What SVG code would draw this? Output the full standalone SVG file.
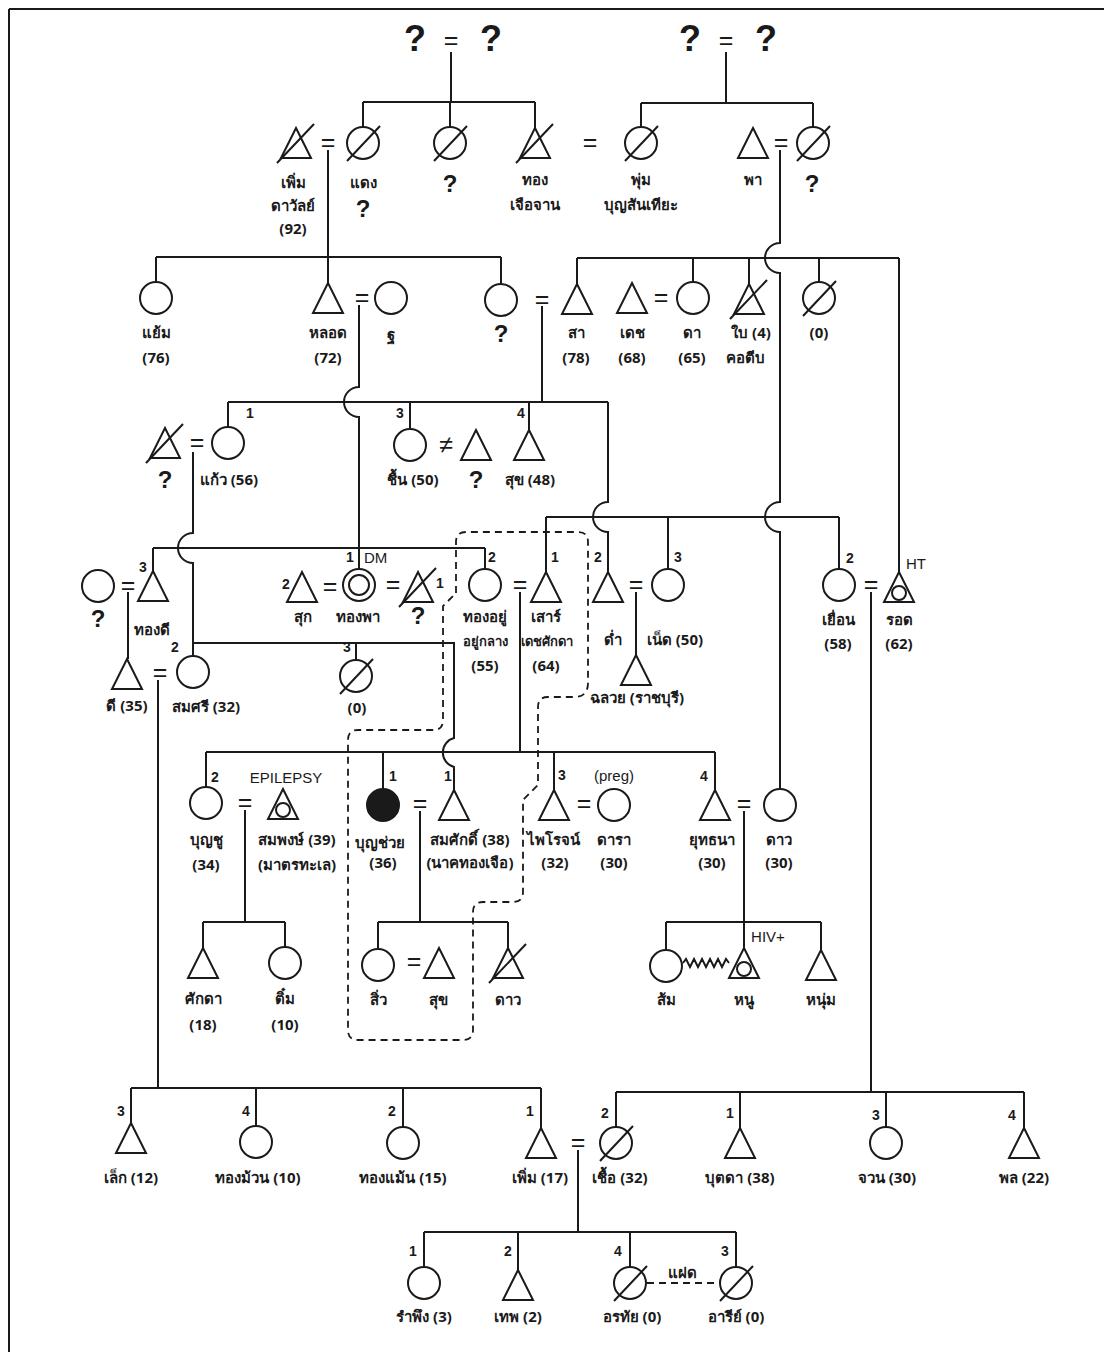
<svg xmlns="http://www.w3.org/2000/svg" xmlns:xlink="http://www.w3.org/1999/xlink" width="1104" height="1352" viewBox="0 0 1104 1352">
<style>
.ln{stroke:#1a1a1a;stroke-width:2;fill:none}
.dl{stroke:#1a1a1a;stroke-width:1.8;fill:none;stroke-dasharray:7 5}
.sym{stroke:#1a1a1a;stroke-width:2;fill:#fff}
.sl{stroke:#1a1a1a;stroke-width:2}
.t{font-family:"Noto Sans","DejaVu Sans",sans-serif;font-size:15px;font-weight:bold;text-anchor:middle;fill:#1a1a1a}
.ts{font-size:13px}
.n{font-family:"Liberation Sans",sans-serif;font-size:14px;font-weight:bold;text-anchor:middle;fill:#1a1a1a}
.e{font-family:"Liberation Sans",sans-serif;font-size:15px;text-anchor:middle;fill:#1a1a1a}
.eq{font-family:"Liberation Sans",sans-serif;font-size:25px;text-anchor:middle;fill:#1a1a1a}
.q{font-family:"Liberation Sans",sans-serif;font-size:24px;font-weight:bold;text-anchor:middle;fill:#1a1a1a}
.qb{font-family:"Liberation Sans",sans-serif;font-size:36px;font-weight:bold;text-anchor:middle;fill:#1a1a1a}
</style>
<defs>
<path id="tri" d="M0,-15 L15,15 L-15,15 Z" class="sym"/>
<circle id="cir" r="16" class="sym"/>
<line id="slT" x1="-19" y1="20" x2="18" y2="-19" class="sl"/>
<line id="slC" x1="-16" y1="18" x2="17" y2="-17" class="sl"/>
<circle id="inn" cx="0" cy="6" r="7" class="sym"/>
</defs>
<rect width="1104" height="1352" fill="#fff"/>
<path class="ln" d="M9,9 H1104 M9,9 V1352" stroke-width="1.5"/>

<g id="connectors">
<path class="ln" d="M451,52 V102 M363,102 H535 M363,102 V127 M450,102 V127 M535,102 V128"/>
<path class="ln" d="M726,52 V103 M641,103 H813 M641,103 V127 M813,103 V127"/>
<path class="ln" d="M328,150 V283" stroke-width="1.4"/>
<path class="ln" d="M156,257 H501 M156,257 V282 M501,257 V284"/>
<path class="ln" d="M780,150 V243 A15,15 0 0,0 780,273 V502 A15,15 0 0,0 780,532 V789"/>
<path class="ln" d="M577,258 H899 M577,258 V284 M693,258 V282 M749,258 V284 M819,258 V282 M899,258 V572"/>
<path class="ln" d="M359,305 V387 A15,15 0 0,0 359,417 V569"/>
<path class="ln" d="M542,306 V402" stroke-width="1.4"/>
<path class="ln" d="M228,402 H608 M228,402 V427 M410,402 V429 M529,402 V430 M608,402 V502 A15,15 0 0,0 608,532 V572"/>
<path class="ln" d="M193,452 V533 A15,15 0 0,0 193,563 V643 H454 V738 A15,15 0 0,0 454,767 V790 M193,643 V656 M356,643 V660"/>
<path class="ln" d="M153,548 H485 M153,548 V571 M485,548 V569"/>
<path class="ln" d="M546,517 H839 M546,517 V572 M668,517 V569 M839,517 V569"/>
<path class="ln" d="M128,592 V659"/>
<path class="ln" d="M158,680 V1088 M131,1088 H541 M131,1088 V1123 M256,1088 V1126 M403,1088 V1127 M541,1088 V1128"/>
<path class="ln" d="M520,592 V752" stroke-width="1.4"/>
<path class="ln" d="M636,592 V655"/>
<path class="ln" d="M871,592 V1092 M616,1092 H1024 M616,1092 V1127 M740,1092 V1128 M886,1092 V1127 M1024,1092 V1128"/>
<path class="ln" d="M206,752 H715 M206,752 V787 M383,752 V789 M554,752 V790 M715,752 V790"/>
<path class="ln" d="M245,810 V922 M203,922 H285 M203,922 V948 M285,922 V947"/>
<path class="ln" d="M420,811 V922 M378,922 H508 M378,922 V949 M508,922 V948"/>
<path class="ln" d="M744,811 V948 M666,922 H821 M666,922 V950 M821,922 V950"/>
<path class="ln" d="M578,1150 V1232 M424,1232 H736 M424,1232 V1267 M518,1232 V1270 M630,1232 V1267 M736,1232 V1267"/>
<path class="dl" d="M647,1283 H719" stroke-dasharray="4 3" stroke-width="1.5"/>
<path class="ln" stroke-width="1.5" d="M683,963 l3,-4 l4,8 l4,-8 l4,8 l4,-8 l4,8 l4,-8 l4,8 l4,-8 l4,8 l4,-8 l3,4"/>
<path class="dl" d="M456,593 V542 Q456,532 466,532 H578 Q588,532 588,542 V683 Q588,697 574,697 H548 Q538,697 538,707 V785 L523,800 V892 Q523,902 513,902 H483 Q473,902 473,912 V1030 Q473,1040 463,1040 H358 Q348,1040 348,1030 V740 Q348,730 358,730 H433 Q443,730 443,720 V606 Z"/>
</g>

<g id="top-left-parents"><text class="qb" x="415" y="51">?</text><text class="eq" x="451" y="49" font-size="28">=</text><text class="qb" x="491" y="51">?</text></g>
<g id="top-right-parents"><text class="qb" x="690" y="51">?</text><text class="eq" x="726" y="49" font-size="28">=</text><text class="qb" x="766" y="51">?</text></g>

<g id="n-perm-dawan"><use href="#tri" x="296" y="143"/><use href="#slT" x="296" y="143"/><text class="t" x="293" y="188">เพิ่ม</text><text class="t" x="293" y="211">ดาวัลย์</text><text class="t" x="293" y="234">(92)</text><text class="eq" x="328" y="151">=</text></g>
<g id="n-daeng"><use href="#cir" x="363" y="143"/><use href="#slC" x="363" y="143"/><text class="t" x="363" y="188">แดง</text><text class="q" x="363" y="217">?</text></g>
<g id="n-q1"><use href="#cir" x="450" y="143"/><use href="#slC" x="450" y="143"/><text class="q" x="450" y="192">?</text></g>
<g id="n-thong"><use href="#tri" x="535" y="143"/><use href="#slT" x="535" y="143"/><text class="t" x="535" y="185">ทอง</text><text class="t" x="535" y="210">เจือจาน</text><text class="eq" x="590" y="151">=</text></g>
<g id="n-phum"><use href="#cir" x="641" y="143"/><use href="#slC" x="641" y="143"/><text class="t" x="641" y="185">พุ่ม</text><text class="t" x="641" y="210">บุญสันเทียะ</text></g>
<g id="n-pha"><use href="#tri" x="753" y="143"/><text class="t" x="753" y="185">พา</text><text class="eq" x="781" y="151">=</text></g>
<g id="n-q2"><use href="#cir" x="813" y="143"/><use href="#slC" x="813" y="143"/><text class="q" x="812" y="192">?</text></g>

<g id="n-yaem"><use href="#cir" x="156" y="298"/><text class="t" x="156" y="338">แย้ม</text><text class="t" x="156" y="363">(76)</text></g>
<g id="n-lot"><use href="#tri" x="328" y="298"/><text class="t" x="328" y="338">หลอด</text><text class="t" x="328" y="363">(72)</text><text class="eq" x="362" y="306">=</text></g>
<g id="n-tho"><use href="#cir" x="391" y="298"/><text class="t" x="391" y="340">ฐ</text></g>
<g id="n-q3"><use href="#cir" x="501" y="300"/><text class="q" x="501" y="342">?</text><text class="eq" x="542" y="308">=</text></g>
<g id="n-sa"><use href="#tri" x="577" y="299"/><text class="t" x="576" y="338">สา</text><text class="t" x="576" y="363">(78)</text></g>
<g id="n-det"><use href="#tri" x="632" y="298"/><text class="t" x="632" y="338">เดช</text><text class="t" x="632" y="363">(68)</text><text class="eq" x="661" y="306">=</text></g>
<g id="n-da"><use href="#cir" x="693" y="298"/><text class="t" x="692" y="338">ดา</text><text class="t" x="692" y="363">(65)</text></g>
<g id="n-bai"><use href="#tri" x="749" y="299"/><use href="#slT" x="749" y="299"/><text class="t" x="751" y="338">ใบ (4)</text><text class="t" x="745" y="363">คอตีบ</text></g>
<g id="n-zero1"><use href="#cir" x="819" y="298"/><use href="#slC" x="819" y="298"/><text class="t" x="819" y="338">(0)</text></g>

<g id="n-q4"><use href="#tri" x="165" y="443"/><use href="#slT" x="165" y="443"/><text class="q" x="165" y="488">?</text><text class="eq" x="197" y="451">=</text></g>
<g id="n-kaew"><use href="#cir" x="228" y="443"/><text class="n" x="250" y="418">1</text><text class="t" x="229" y="485">แก้ว (56)</text></g>
<g id="n-chuen"><use href="#cir" x="410" y="445"/><text class="n" x="400" y="418">3</text><text class="t" x="413" y="485">ชื้น (50)</text><text class="eq" x="446" y="453">≠</text></g>
<g id="n-q5"><use href="#tri" x="476" y="445"/><text class="q" x="476" y="488">?</text></g>
<g id="n-suk1"><use href="#tri" x="529" y="445"/><text class="n" x="521" y="418">4</text><text class="t" x="530" y="485">สุข (48)</text></g>

<g id="n-q6"><use href="#cir" x="98" y="586"/><text class="q" x="98" y="627">?</text><text class="eq" x="128" y="594">=</text></g>
<g id="n-thongdi"><use href="#tri" x="153" y="586"/><text class="n" x="143" y="572">3</text><text class="t" x="152" y="635">ทองดี</text></g>
<g id="n-sukk"><use href="#tri" x="302" y="587"/><text class="n" x="286" y="589">2</text><text class="t" x="303" y="622">สุก</text><text class="eq" x="330" y="595">=</text></g>
<g id="n-thongpha"><use href="#cir" x="359" y="585"/><circle cx="359" cy="585" r="10" class="sym"/><text class="n" x="350" y="562">1</text><text class="e" x="364" y="563" style="text-anchor:start">DM</text><text class="t" x="358" y="622">ทองพา</text><text class="eq" x="393" y="593">=</text></g>
<g id="n-q7"><use href="#tri" x="418" y="587"/><use href="#slT" x="418" y="587"/><text class="n" x="440" y="588">1</text><text class="q" x="418" y="624">?</text></g>
<g id="n-thongyu"><use href="#cir" x="485" y="585"/><text class="n" x="492" y="562">2</text><text class="t" x="485" y="622">ทองอยู่</text><text class="t ts" x="485" y="646">อยู่กลาง</text><text class="t" x="485" y="671">(55)</text><text class="eq" x="520" y="593">=</text></g>
<g id="n-sao"><use href="#tri" x="546" y="587"/><text class="n" x="555" y="562">1</text><text class="t" x="546" y="622">เสาร์</text><text class="t ts" x="547" y="646">เดชศักดา</text><text class="t" x="546" y="671">(64)</text></g>
<g id="n-dam"><use href="#tri" x="608" y="587"/><text class="n" x="598" y="562">2</text><text class="t" x="613" y="645">ด่ำ</text><text class="eq" x="636" y="593">=</text></g>
<g id="n-net"><use href="#cir" x="668" y="585"/><text class="n" x="678" y="562">3</text><text class="t" x="675" y="645">เน็ด (50)</text></g>
<g id="n-chaluay"><use href="#tri" x="636" y="670"/><text class="t" x="637" y="703">ฉลวย (ราชบุรี)</text></g>
<g id="n-yuean"><use href="#cir" x="839" y="585"/><text class="n" x="850" y="563">2</text><text class="t" x="838" y="625">เยื่อน</text><text class="t" x="838" y="649">(58)</text><text class="eq" x="871" y="593">=</text></g>
<g id="n-rot"><use href="#tri" x="899" y="587"/><use href="#inn" x="899" y="587"/><text class="e" x="916" y="569">HT</text><text class="t" x="899" y="625">รอด</text><text class="t" x="899" y="649">(62)</text></g>

<g id="n-di"><use href="#tri" x="127" y="674"/><text class="t" x="127" y="711">ดี (35)</text><text class="eq" x="160" y="681">=</text></g>
<g id="n-somsri"><use href="#cir" x="193" y="672"/><text class="n" x="175" y="652">2</text><text class="t" x="206" y="712">สมศรี (32)</text></g>
<g id="n-zero2"><use href="#cir" x="356" y="676"/><use href="#slC" x="356" y="676"/><text class="n" x="347" y="652">3</text><text class="t" x="357" y="713">(0)</text></g>

<g id="n-boonchu"><use href="#cir" x="206" y="803"/><text class="n" x="215" y="782">2</text><text class="t" x="206" y="845">บุญชู</text><text class="t" x="206" y="870">(34)</text><text class="eq" x="245" y="811">=</text></g>
<g id="n-sompong"><use href="#tri" x="283" y="804"/><use href="#inn" x="283" y="804"/><text class="e" x="286" y="783">EPILEPSY</text><text class="t" x="297" y="845">สมพงษ์ (39)</text><text class="t" x="297" y="870">(มาตรทะเล)</text></g>
<g id="n-boonchuay"><circle cx="383" cy="805" r="16" fill="#1a1a1a" stroke="#1a1a1a" stroke-width="2"/><text class="n" x="393" y="781">1</text><text class="t" x="380" y="848">บุญช่วย</text><text class="t" x="383" y="868">(36)</text><text class="eq" x="420" y="812">=</text></g>
<g id="n-somsak"><use href="#tri" x="454" y="805"/><text class="n" x="448" y="781">1</text><text class="t" x="470" y="845">สมศักดิ์ (38)</text><text class="t" x="470" y="868">(นาคทองเจือ)</text></g>
<g id="n-pairot"><use href="#tri" x="554" y="805"/><text class="n" x="562" y="780">3</text><text class="t" x="553" y="845">ไพโรจน์</text><text class="t" x="555" y="868">(32)</text><text class="eq" x="584" y="812">=</text></g>
<g id="n-dara"><use href="#cir" x="614" y="805"/><text class="e" x="614" y="781">(preg)</text><text class="t" x="614" y="845">ดารา</text><text class="t" x="614" y="868">(30)</text></g>
<g id="n-yuttana"><use href="#tri" x="715" y="805"/><text class="n" x="704" y="781">4</text><text class="t" x="712" y="845">ยุทธนา</text><text class="t" x="712" y="868">(30)</text><text class="eq" x="744" y="812">=</text></g>
<g id="n-dao1"><use href="#cir" x="780" y="805"/><text class="t" x="779" y="845">ดาว</text><text class="t" x="779" y="868">(30)</text></g>

<g id="n-sakda"><use href="#tri" x="203" y="963"/><text class="t" x="203" y="1004">ศักดา</text><text class="t" x="203" y="1030">(18)</text></g>
<g id="n-tim"><use href="#cir" x="285" y="963"/><text class="t" x="285" y="1004">ติ๋ม</text><text class="t" x="285" y="1030">(10)</text></g>
<g id="n-siw"><use href="#cir" x="378" y="965"/><text class="t" x="378" y="1005">สิ่ว</text><text class="eq" x="414" y="970">=</text></g>
<g id="n-suk2"><use href="#tri" x="439" y="963"/><text class="t" x="438" y="1005">สุข</text></g>
<g id="n-dao2"><use href="#tri" x="508" y="963"/><use href="#slT" x="508" y="963"/><text class="t" x="508" y="1005">ดาว</text></g>
<g id="n-som"><use href="#cir" x="666" y="966"/><text class="t" x="666" y="1005">ส้ม</text></g>
<g id="n-nu"><use href="#tri" x="744" y="963"/><use href="#inn" x="744" y="963"/><text class="e" x="768" y="942">HIV+</text><text class="t" x="744" y="1005">หนู</text></g>
<g id="n-num"><use href="#tri" x="821" y="965"/><text class="t" x="821" y="1005">หนุ่ม</text></g>

<g id="n-lek"><use href="#tri" x="131" y="1138"/><text class="n" x="121" y="1116">3</text><text class="t" x="131" y="1183">เล็ก (12)</text></g>
<g id="n-thongmuan"><use href="#cir" x="256" y="1142"/><text class="n" x="246" y="1116">4</text><text class="t" x="258" y="1183">ทองม้วน (10)</text></g>
<g id="n-thongmaen"><use href="#cir" x="403" y="1143"/><text class="n" x="392" y="1116">2</text><text class="t" x="403" y="1183">ทองแม้น (15)</text></g>
<g id="n-perm2"><use href="#tri" x="541" y="1143"/><text class="n" x="530" y="1116">1</text><text class="t" x="540" y="1183">เพิ่ม (17)</text><text class="eq" x="578" y="1151">=</text></g>
<g id="n-chuea"><use href="#cir" x="616" y="1143"/><use href="#slC" x="616" y="1143"/><text class="n" x="605" y="1118">2</text><text class="t" x="620" y="1183">เชื้อ (32)</text></g>
<g id="n-butda"><use href="#tri" x="740" y="1143"/><text class="n" x="730" y="1118">1</text><text class="t" x="740" y="1183">บุตดา (38)</text></g>
<g id="n-juan"><use href="#cir" x="886" y="1143"/><text class="n" x="876" y="1120">3</text><text class="t" x="887" y="1183">จวน (30)</text></g>
<g id="n-phon"><use href="#tri" x="1024" y="1143"/><text class="n" x="1012" y="1120">4</text><text class="t" x="1024" y="1183">พล (22)</text></g>

<g id="n-rampueng"><use href="#cir" x="424" y="1283"/><text class="n" x="413" y="1256">1</text><text class="t" x="424" y="1322">รำพึง (3)</text></g>
<g id="n-thep"><use href="#tri" x="518" y="1285"/><text class="n" x="508" y="1256">2</text><text class="t" x="518" y="1322">เทพ (2)</text></g>
<g id="n-orathai"><use href="#cir" x="630" y="1283"/><use href="#slC" x="630" y="1283"/><text class="n" x="618" y="1256">4</text><text class="t" x="632" y="1322">อรทัย (0)</text><text class="t" x="682" y="1278">แฝด</text></g>
<g id="n-aree"><use href="#cir" x="736" y="1283"/><use href="#slC" x="736" y="1283"/><text class="n" x="725" y="1256">3</text><text class="t" x="736" y="1322">อารีย์ (0)</text></g>
</svg>
